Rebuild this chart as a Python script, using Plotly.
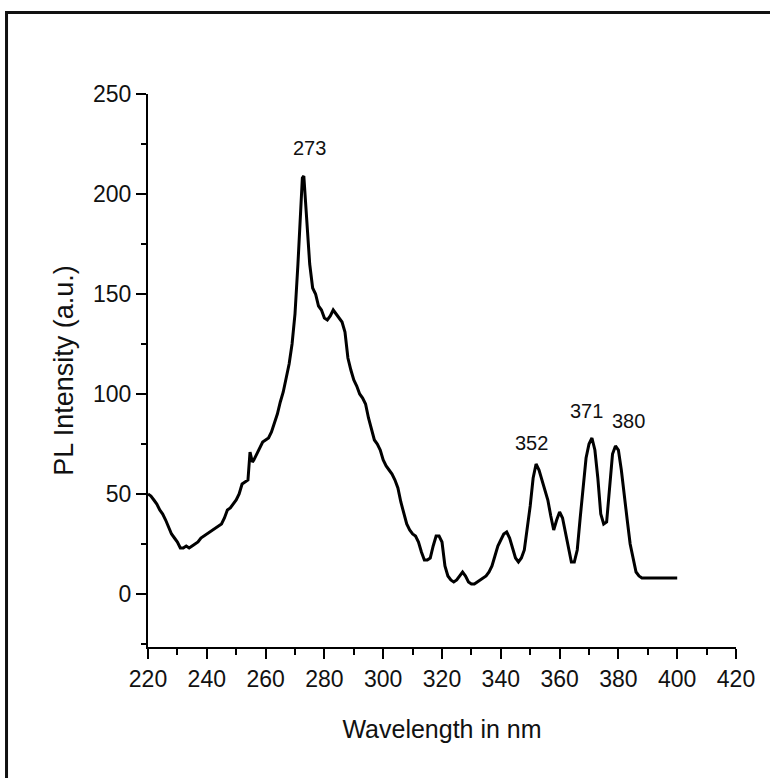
import plotly.graph_objects as go

# PL emission spectrum (wavelength in nm, intensity in a.u.)
wavelength = [
    220, 221, 222, 223, 224, 225, 226, 227, 228, 229, 230, 231, 232, 233, 234,
    235, 236, 237, 238, 239, 240, 241, 242, 243, 244, 245, 246, 247, 248, 249,
    250, 251, 252, 253, 254, 254.7, 255.5, 256, 257, 258, 259, 260, 261, 262,
    263, 264, 265, 266, 267, 268, 269, 270, 271, 272, 272.5, 273, 274, 275,
    276, 277, 278, 279, 280, 281, 282, 283, 284, 285, 286, 287, 288, 289, 290,
    291, 292, 293, 294, 295, 296, 297, 298, 299, 300, 301, 302, 303, 304, 305,
    306, 307, 308, 309, 310, 311, 312, 313, 314, 315, 316, 317, 318, 319, 320,
    321, 322, 323, 324, 325, 326, 327, 328, 329, 330, 331, 332, 333, 334, 335,
    336, 337, 338, 339, 340, 341, 342, 343, 344, 345, 346, 347, 348, 349, 350,
    351, 352, 353, 354, 355, 356, 357, 358, 359, 360, 361, 362, 363, 364, 365,
    366, 367, 368, 369, 370, 371, 372, 373, 374, 375, 376, 377, 378, 379, 380,
    381, 382, 383, 384, 385, 386, 387, 388, 390, 392, 395, 398, 400,
]
intensity = [
    50, 49, 47, 45, 42, 40, 37, 33, 30, 28, 26, 23, 23, 24, 23,
    24, 25, 26, 28, 29, 30, 31, 32, 33, 34, 35, 38, 42, 43, 45,
    47, 50, 55, 56, 57, 71, 66, 67, 70, 73, 76, 77, 78, 81,
    85, 90, 96, 101, 108, 115, 125, 140, 165, 190, 208, 209, 185, 165,
    153, 150, 144, 142, 138, 137, 139, 142, 140, 138, 136, 131, 118, 112, 107,
    104, 100, 98, 95, 88, 83, 77, 75, 72, 67, 64, 62, 60, 57, 53,
    46, 40, 35, 32, 30, 29, 26, 21, 17, 17, 18, 24, 29, 29, 26,
    14, 9, 7, 6, 7, 9, 11, 9, 6, 5, 5, 6, 7, 8, 9,
    11, 14, 19, 24, 27, 30, 31, 28, 23, 18, 16, 18, 22, 32, 44,
    58, 65, 62, 57, 52, 47, 39, 32, 37, 41, 38, 30, 22, 16, 16,
    22, 38, 54, 68, 75, 78, 72, 58, 40, 35, 36, 55, 70, 74, 72,
    62, 48, 37, 25, 17, 11, 9, 8, 8, 8, 8, 8, 8,
]

# Peak labels: text, position (nm, a.u.)
peak_text = ["273", "352", "371", "380"]
peak_x = [275.1, 350.3, 369.3, 383.3]
peak_y = [223, 75.5, 91.5, 86.5]

x_ticks = [220, 240, 260, 280, 300, 320, 340, 360, 380, 400, 420]
y_ticks = [0, 50, 100, 150, 200, 250]

FONT = "Liberation Sans, Arial, sans-serif"
INK = "#111111"

fig = go.Figure()
fig.add_trace(go.Scatter(
    x=wavelength, y=intensity, mode="lines",
    line=dict(color="black", width=3),
    showlegend=False, hoverinfo="skip",
))

for t, px, py in zip(peak_text, peak_x, peak_y):
    fig.add_annotation(
        x=px, y=py, text=t, showarrow=False,
        font=dict(family=FONT, size=20, color=INK),
    )

# outer frame of the figure
fig.add_shape(
    type="rect", xref="paper", yref="paper",
    x0=-0.2406, y0=-0.35, x1=1.2, y1=1.1474,
    line=dict(color=INK, width=3), layer="below",
)

fig.update_layout(
    width=770, height=778,
    margin=dict(l=148, r=34, t=94, b=131),
    paper_bgcolor="white", plot_bgcolor="white",
    font=dict(family=FONT, color=INK),
    xaxis=dict(
        range=[220, 420], tickvals=x_ticks, ticktext=[str(v) for v in x_ticks],
        showline=True, linecolor="black", linewidth=2,
        ticks="outside", ticklen=10, tickwidth=2, tickcolor="black",
        minor=dict(ticks="outside", ticklen=6, tickwidth=2, dtick=10,
                   tickcolor="black", tick0=220),
        showgrid=False, zeroline=False,
        tickfont=dict(family=FONT, size=23, color=INK),
        title=dict(text="Wavelength in nm", standoff=30,
                   font=dict(family=FONT, size=25, color=INK)),
    ),
    yaxis=dict(
        range=[-26.5, 250], tickvals=y_ticks, ticktext=[str(v) for v in y_ticks],
        showline=True, linecolor="black", linewidth=2,
        ticks="outside", ticklen=10, tickwidth=2, tickcolor="black",
        minor=dict(ticks="outside", ticklen=5, tickwidth=2, dtick=25,
                   tickcolor="black", tick0=0),
        showgrid=False, zeroline=False,
        tickfont=dict(family=FONT, size=23, color=INK),
        title=dict(text="PL Intensity (a.u.)", standoff=12,
                   font=dict(family=FONT, size=27, color=INK)),
    ),
)

fig.write_html("out.html")
